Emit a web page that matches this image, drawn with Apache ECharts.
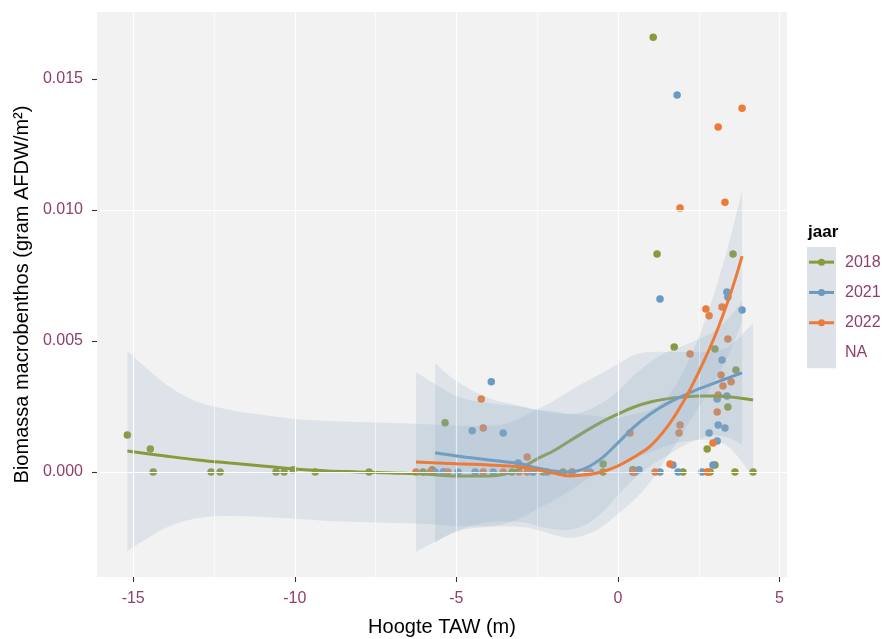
<!DOCTYPE html>
<html>
<head>
<meta charset="utf-8">
<script src="https://cdn.jsdelivr.net/npm/echarts@6/dist/echarts.min.js"></script>
<style>
  html, body { margin: 0; padding: 0; background: #ffffff; }
  #chart { width: 886px; height: 639px; }
</style>
</head>
<body>
<div id="chart"></div>
<script>
// ---- observations: [hoogte TAW (m), biomassa (g AFDW/m²)] ----
const points2018 = [
  [-15.18,0.00141],[-14.47,0.00088],[-14.38,0],[-12.59,0],[-12.31,0],[-10.58,0],[-10.33,0],[-10.05,0.00008],
  [-9.37,0],[-7.70,0],[-6.03,0],[-5.75,0.00008],[-5.38,0],[-5.35,0.00188],[-3.28,0],[-2.63,0],[-2.32,0],
  [-1.70,0],[-0.46,0.00030],[-0.46,0],[0.46,0.00008],[0.52,0],[1.09,0.0166],[1.21,0.00832],[1.74,0.00477],
  [2.01,0],[2.76,0.00088],[2.85,0],[3.00,0.00469],[3.00,0.00027],[3.40,0.00248],[3.56,0.00832],[3.62,0],
  [3.65,0.00389],[4.18,0]
];
const points2021 = [
  [-5.66,0],[-5.41,0],[-4.95,0],[-4.42,0],[-3.86,0],[-2.63,0],[-2.19,0],[-1.42,0],[-0.86,0],
  [-3.92,0.00344],[-4.51,0.00157],[-3.55,0.00149],[-3.09,0.00034],[1.83,0.01439],[1.30,0.0066],
  [3.37,0.00687],[3.40,0.00668],[3.84,0.00618],[3.22,0.00427],[3.10,0.00179],[3.31,0.00168],
  [2.82,0.00149],[3.07,0.00118],[3.07,0.00279],[3.37,0.0029],[2.94,0.00027],[1.70,0.00027],
  [1.86,0],[2.60,0],[1.30,0],[0.46,0],[0.65,0.00008]
];
const points2022 = [
  [-6.25,0],[-5.81,0],[-5.26,0],[-4.17,0],[-3.55,0],[-3.06,0],[-2.81,0],[-1.42,0],[-0.96,0],
  [-4.23,0.00279],[-4.17,0.00168],[-2.81,0.00057],[0.37,0.00149],[0.46,0],[3.84,0.01389],[3.10,0.01317],
  [3.31,0.0103],[1.92,0.01008],[2.23,0.0045],[2.72,0.00622],[2.82,0.00596],[3.22,0.0063],[3.40,0.00508],
  [3.19,0.0037],[3.25,0.00328],[3.50,0.00344],[3.10,0.00294],[3.07,0.00229],[1.92,0.00179],[1.89,0.00149],
  [2.94,0.00111],[1.61,0.0003],[1.15,0],[2.76,0],[2.79,0]
];

// ---- loess fits with confidence bands ----
const fitX2018 = [-15.18,-14,-13,-12,-11,-10,-9,-8,-7,-6,-5,-4,-3.5,-3,-2.5,-2,-1.5,-1,-0.5,0,0.5,1,1.5,2,2.5,3,3.5,4.18];
const fitY2018 = [0.00080,0.00061,0.00046,0.00034,0.00023,0.00011,0.00004,0,-0.00004,-0.00008,-0.00015,-0.00015,-0.00008,0.00015,0.00050,0.00080,0.00118,0.00156,0.00191,0.00221,0.00248,0.00267,0.00279,0.00286,0.00290,0.00290,0.00286,0.00275];
const fitLo2018 = [-0.00302,-0.00214,-0.00176,-0.00168,-0.00172,-0.00179,-0.00187,-0.00191,-0.00195,-0.00198,-0.00206,-0.00206,-0.00198,-0.00176,-0.00141,-0.00111,-0.00073,-0.00031,0.00004,0.00031,0.00050,0.00076,0.00099,0.00115,0.00122,0.00118,0.00088,-0.00019];
const fitHi2018 = [0.00462,0.00336,0.00267,0.00237,0.00218,0.00202,0.00195,0.00191,0.00187,0.00183,0.00176,0.00176,0.00183,0.00206,0.00240,0.00271,0.00309,0.00344,0.00378,0.00412,0.00447,0.00458,0.00458,0.00458,0.00458,0.00462,0.00485,0.00569];

const fitX2021 = [-5.66,-5,-4,-3,-2.5,-2,-1.5,-1,-0.5,0,0.5,1,1.5,2,2.5,3,3.5,3.84];
const fitY2021 = [0.00073,0.00061,0.00046,0.00031,0.00015,0.00004,0,0.00015,0.00053,0.00111,0.00172,0.00221,0.00260,0.00290,0.00317,0.00340,0.00363,0.00378];
const fitLo2021 = [-0.00271,-0.00225,-0.00191,-0.00191,-0.00206,-0.00218,-0.00221,-0.00202,-0.00156,-0.00088,-0.00027,0.00023,0.00061,0.00099,0.00126,0.00141,0.00126,0.00103];
const fitHi2021 = [0.00416,0.00347,0.00282,0.00252,0.00237,0.00225,0.00221,0.00233,0.00263,0.00309,0.00370,0.00420,0.00458,0.00481,0.00508,0.00538,0.00599,0.00653];

const fitX2022 = [-6.25,-5,-4,-3,-2.5,-2,-1.5,-1,-0.5,0,0.5,1,1.5,2,2.5,3,3.5,3.84];
const fitY2022 = [0.00038,0.00031,0.00027,0.00019,0.00008,-0.00004,-0.00015,-0.00011,0,0.00023,0.00057,0.00099,0.00168,0.00263,0.00382,0.00519,0.00687,0.00824];
const fitLo2022 = [-0.00305,-0.00229,-0.00210,-0.00210,-0.00221,-0.00240,-0.00252,-0.00240,-0.00210,-0.00160,-0.00107,-0.00038,0.00053,0.00149,0.00248,0.00347,0.00469,0.00573];
const fitHi2022 = [0.00382,0.00290,0.00263,0.00248,0.00237,0.00233,0.00221,0.00218,0.00210,0.00206,0.00221,0.00237,0.00282,0.00378,0.00515,0.00691,0.00905,0.01076];

// ---- axes ----
const xTicks = [-15, -10, -5, 0, 5];
const xMinorGrid = [-12.5, -7.5, -2.5, 2.5];
const yTicks = [0, 0.005, 0.010, 0.015];
const yMinorGrid = [-0.0025, 0.0025, 0.0075, 0.0125];

const colors = { '2018': '#8A9A3A', '2021': '#6B9AC0', '2022': '#EE7A38' };
const bandFill = 'rgba(140,168,195,0.20)';
const labelColor = '#8E3F6E';
const FONT = '"Liberation Sans", Arial, sans-serif';

const groups = [
  { year: '2018', pts: points2018, x: fitX2018, y: fitY2018, lo: fitLo2018, hi: fitHi2018 },
  { year: '2021', pts: points2021, x: fitX2021, y: fitY2021, lo: fitLo2021, hi: fitHi2021 },
  { year: '2022', pts: points2022, x: fitX2022, y: fitY2022, lo: fitLo2022, hi: fitHi2022 }
];

// Catmull-Rom segments through already-projected pixel points
function splineSegments(pts) {
  let d = '';
  for (let i = 0; i < pts.length - 1; i++) {
    const p0 = pts[i - 1] || pts[i], p1 = pts[i], p2 = pts[i + 1], p3 = pts[i + 2] || pts[i + 1];
    const c1x = p1[0] + (p2[0] - p0[0]) / 6, c1y = p1[1] + (p2[1] - p0[1]) / 6;
    const c2x = p2[0] - (p3[0] - p1[0]) / 6, c2y = p2[1] - (p3[1] - p1[1]) / 6;
    d += ' C' + c1x + ',' + c1y + ' ' + c2x + ',' + c2y + ' ' + p2[0] + ',' + p2[1];
  }
  return d;
}

function bandSeries(g, z) {
  return {
    type: 'custom', silent: true, z: z, clip: true,
    data: g.x.map((x, k) => [x, g.lo[k], g.hi[k]]),
    encode: { x: 0, y: [1, 2] },
    renderItem: function (params, api) {
      if (params.dataIndex !== 0) return null;
      const up = g.x.map((x, k) => api.coord([x, g.hi[k]]));
      const lo = g.x.map((x, k) => api.coord([x, g.lo[k]])).reverse();
      const d = 'M' + up[0][0] + ',' + up[0][1] + splineSegments(up) +
        ' L' + lo[0][0] + ',' + lo[0][1] + splineSegments(lo) + ' Z';
      return { type: 'path', shape: { pathData: d }, style: { fill: bandFill } };
    }
  };
}

const series = [];

// gridlines drawn through the axis scales
series.push({
  type: 'line', data: [], silent: true, z: 0,
  markLine: {
    silent: true, symbol: 'none', label: { show: false }, animation: false,
    data: [
      ...yTicks.map(v => ({ yAxis: v, lineStyle: { color: '#ffffff', width: 1.2, type: 'solid' } })),
      ...yMinorGrid.map(v => ({ yAxis: v, lineStyle: { color: '#ffffff', width: 0.6, type: 'solid' } })),
      ...xTicks.map(v => ({ xAxis: v, lineStyle: { color: '#ffffff', width: 1.2, type: 'solid' } })),
      ...xMinorGrid.map(v => ({ xAxis: v, lineStyle: { color: '#ffffff', width: 0.6, type: 'solid' } }))
    ]
  }
});

// points
groups.forEach(g => {
  series.push({
    type: 'scatter', name: g.year, data: g.pts, z: 1,
    symbolSize: 7.5, itemStyle: { color: colors[g.year], opacity: 1 }, silent: true
  });
});

// bands + fitted lines
groups.forEach((g, i) => {
  series.push(bandSeries(g, 2 + i * 2));
  series.push({
    type: 'line', data: g.x.map((x, k) => [x, g.y[k]]), smooth: 0.4, symbol: 'none',
    lineStyle: { color: colors[g.year], width: 3 }, silent: true, z: 3 + i * 2
  });
});

// legend drawn as graphic elements
const legendItems = [];
const keyX = 807, keyW = 29, keyTop = 247, keyH = 30.3;
legendItems.push({ type: 'text', left: 808, top: 224,
  style: { text: 'jaar', font: 'bold 17px ' + FONT, fill: '#000' } });
legendItems.push({ type: 'rect', shape: { x: keyX, y: keyTop, width: keyW, height: keyH * 4 },
  style: { fill: '#DCE2E8' } });
['2018', '2021', '2022', 'NA'].forEach((lab, k) => {
  const cy = keyTop + keyH * (k + 0.5);
  if (colors[lab]) {
    legendItems.push({ type: 'line', shape: { x1: keyX + 2, y1: cy, x2: keyX + keyW - 2, y2: cy },
      style: { stroke: colors[lab], lineWidth: 3 } });
    legendItems.push({ type: 'circle', shape: { cx: keyX + keyW / 2, cy: cy, r: 3.5 },
      style: { fill: colors[lab] } });
  }
  legendItems.push({ type: 'text', x: 845, y: cy,
    style: { text: lab, font: '16px ' + FONT, fill: labelColor, verticalAlign: 'middle' } });
});

const chart = echarts.init(document.getElementById('chart'), null, { renderer: 'canvas' });
chart.setOption({
  animation: false,
  backgroundColor: '#ffffff',
  grid: { left: 97, right: 99, top: 12, bottom: 62, show: true, backgroundColor: '#F2F2F2', borderWidth: 0,
    containLabel: false, outerBoundsMode: 'none' },
  xAxis: {
    type: 'value', min: -16.12, max: 5.23,
    name: 'Hoogte TAW (m)', nameLocation: 'middle', nameGap: 40,
    nameTextStyle: { fontFamily: FONT, fontSize: 20, color: '#000' },
    axisLine: { show: false, onZero: false },
    axisTick: { show: true, length: 5, customValues: xTicks, lineStyle: { color: '#333', width: 1.1 } },
    axisLabel: { customValues: xTicks, margin: 14, fontFamily: FONT, fontSize: 16, color: labelColor },
    splitLine: { show: false }
  },
  yAxis: {
    type: 'value', min: -0.00401, max: 0.01756,
    name: 'Biomassa macrobenthos (gram AFDW/m²)', nameLocation: 'middle', nameGap: 59,
    nameTextStyle: { fontFamily: FONT, fontSize: 20, color: '#000' },
    axisLine: { show: false, onZero: false },
    axisTick: { show: true, length: 5, customValues: yTicks, lineStyle: { color: '#333', width: 1.1 } },
    axisLabel: { customValues: yTicks, margin: 14, fontFamily: FONT, fontSize: 16, color: labelColor,
      formatter: v => v.toFixed(3) },
    splitLine: { show: false }
  },
  graphic: legendItems,
  series: series
});
</script>
</body>
</html>
